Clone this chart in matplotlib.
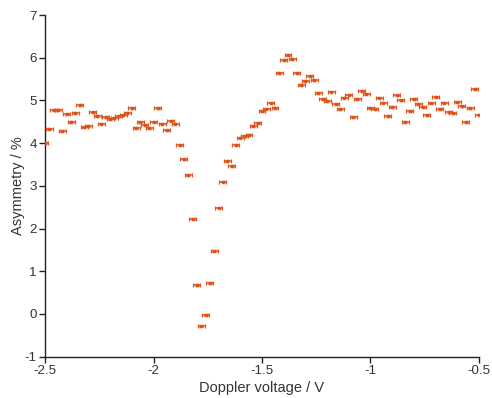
import numpy as np
import matplotlib.pyplot as plt

plt.rcParams['font.family'] = ['Liberation Sans', 'DejaVu Sans']
plt.rcParams['axes.unicode_minus'] = False

# Doppler voltage scan, -2.5 V to -0.5 V in 0.02 V steps
voltage = np.round(np.arange(-2.5, -0.5 + 1e-9, 0.02), 2)
asymmetry = [
    4.01, 4.34, 4.78, 4.77, 4.29, 4.68, 4.50, 4.71, 4.89, 4.37,
    4.41, 4.72, 4.64, 4.46, 4.61, 4.57, 4.60, 4.64, 4.66, 4.71,
    4.82, 4.35, 4.50, 4.43, 4.35, 4.50, 4.82, 4.46, 4.30, 4.53,
    4.46, 3.96, 3.62, 3.26, 2.22, 0.68, -0.28, -0.02, 0.73, 1.47,
    2.49, 3.10, 3.58, 3.46, 3.96, 4.13, 4.17, 4.20, 4.40, 4.48,
    4.76, 4.81, 4.95, 4.83, 5.65, 5.95, 6.07, 5.97, 5.64, 5.36,
    5.45, 5.58, 5.47, 5.17, 5.04, 4.99, 5.21, 4.91, 4.80, 5.07,
    5.14, 4.62, 5.04, 5.22, 5.16, 4.82, 4.80, 5.07, 4.95, 4.64,
    4.84, 5.12, 5.00, 4.50, 4.75, 5.04, 4.91, 4.85, 4.66, 4.93,
    5.09, 4.80, 4.95, 4.73, 4.71, 4.96, 4.86, 4.49, 4.82, 5.27,
    4.67,
]
xticks = [-2.5, -2, -1.5, -1, -0.5]
xticklabels = ['-2.5', '-2', '-1.5', '-1', '-0.5']
yticks = [-1, 0, 1, 2, 3, 4, 5, 6, 7]

fig = plt.figure(figsize=(4.92, 3.98), dpi=100)
ax = fig.add_axes([0.0915, 0.104, 0.882, 0.858])

ax.errorbar(voltage, asymmetry, xerr=0.016, yerr=0.02, fmt='s',
            color='#d9531e', ecolor='#e0561c', markersize=1.8,
            elinewidth=1.1, capsize=1.3, capthick=0.9, zorder=3)

ax.set_xlim(-2.5, -0.5)
ax.set_ylim(-1, 7)
ax.set_xticks(xticks)
ax.set_xticklabels(xticklabels)
ax.set_yticks(yticks)

for s in ['top', 'right']:
    ax.spines[s].set_visible(False)
for s in ['left', 'bottom']:
    ax.spines[s].set_color('#222222')
    ax.spines[s].set_linewidth(1.0)

ax.tick_params(direction='out', length=4, width=1.0, colors='#222222',
               labelsize=9.6, labelcolor='#333333', pad=2)

ax.set_xlabel('Doppler voltage / V', fontsize=10.5, color='#333333', labelpad=3)
ax.set_ylabel('Asymmetry / %', fontsize=10.5, color='#333333')
ax.yaxis.set_label_coords(-0.045, 0.5)

fig.savefig('out.png', dpi=100)
